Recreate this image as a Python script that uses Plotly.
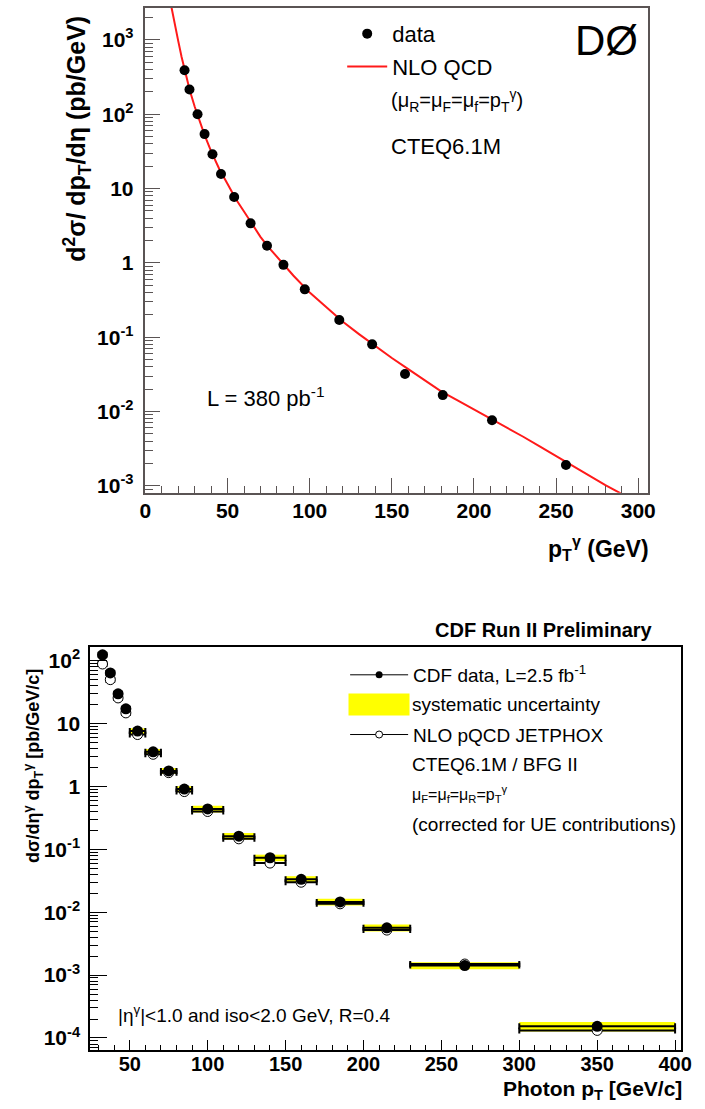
import plotly.graph_objects as go

W, H = 705, 1109

# ---------------- Top panel (D0) data ----------------
d0_pt = [23.8, 26.8, 31.7, 36.0, 40.8, 46.0, 54.0, 64.0, 74.0, 84.0, 97.0,
         118.0, 138.0, 158.0, 181.0, 211.0, 256.0]
d0_xsec = [390, 215, 100, 54, 29, 15.7, 7.7, 3.4, 1.7, 0.94, 0.44,
           0.17, 0.08, 0.032, 0.0166, 0.0076, 0.0019]

nlo_pt = [15, 16, 18, 20, 22, 24, 27, 30, 33, 36, 40, 45, 50, 55, 60, 65, 70, 75, 80,
          90, 100, 110, 120, 130, 140, 150, 160, 170, 180, 190, 200, 210, 220,
          230, 240, 250, 260, 270, 280, 290]
nlo_xsec = [3400, 2690, 1585, 955, 589, 380, 209, 126, 79.4, 52.5, 31.6, 18.2, 11.5,
            7.24, 4.90, 3.24, 2.24, 1.62, 1.20, 0.676, 0.398, 0.251, 0.162, 0.110,
            0.0759, 0.0525, 0.0372, 0.0263, 0.0186, 0.0141, 0.0107, 0.00813,
            0.00617, 0.00457, 0.00339, 0.00251, 0.00182, 0.00135, 0.00102, 0.000776]

top_ytickvals = [1e3, 1e2, 10, 1, 0.1, 0.01, 0.001]
top_yticktext = ["10<sup>3</sup>", "10<sup>2</sup>", "10", "1",
                 "10<sup>-1</sup>", "10<sup>-2</sup>", "10<sup>-3</sup>"]

# ---------------- Bottom panel (CDF) data ----------------
cdf_pt = [32.5, 37.5, 42.5, 47.5, 55, 65, 75, 85, 100, 120, 140, 160, 185, 215, 265, 350]
cdf_halfwidth = [2.5, 2.5, 2.5, 2.5, 5, 5, 5, 5, 10, 10, 10, 10, 15, 15, 35, 50]
cdf_xsec = [124, 64, 29.7, 17.2, 7.6, 3.55, 1.77, 0.91, 0.44, 0.162, 0.0735,
            0.0334, 0.0146, 0.00566, 0.00142, 0.000153]
cdf_syst_frac = [0.12, 0.12, 0.12, 0.12, 0.11, 0.11, 0.11, 0.11, 0.12, 0.12, 0.12,
                 0.12, 0.12, 0.125, 0.13, 0.17]
jetphox_xsec = [88.7, 50, 25.6, 14.8, 6.7, 3.25, 1.66, 0.83, 0.40, 0.147, 0.0605,
                0.030, 0.0136, 0.0052, 0.00150, 0.000132]

bot_ytickvals = [1e2, 10, 1, 0.1, 0.01, 0.001, 0.0001]
bot_yticktext = ["10<sup>2</sup>", "10", "1", "10<sup>-1</sup>", "10<sup>-2</sup>",
                 "10<sup>-3</sup>", "10<sup>-4</sup>"]


def px(x):
    return x / W


def py(y):
    return 1 - y / H


def minor_log(lo, hi):
    vals = []
    for d in range(lo, hi + 1):
        for k in range(2, 10):
            vals.append(k * 10.0 ** d)
    return vals


FONT = "Liberation Sans"
fig = go.Figure()

# ---- top traces ----
fig.add_trace(go.Scatter(x=nlo_pt, y=nlo_xsec, mode="lines",
                         line=dict(color="#ff1a1a", width=2),
                         name="NLO QCD", legend="legend5", xaxis="x", yaxis="y"))
fig.add_trace(go.Scatter(x=d0_pt, y=d0_xsec, mode="markers",
                         marker=dict(color="black", size=10, symbol="circle"),
                         name="data", legend="legend4", xaxis="x", yaxis="y"))

# ---- bottom traces ----
syst_lo = [v * (1 - f) for v, f in zip(cdf_xsec, cdf_syst_frac)]
syst_hi = [v * (1 + f) for v, f in zip(cdf_xsec, cdf_syst_frac)]
fig.add_trace(go.Bar(x=cdf_pt, y=[h - l for h, l in zip(syst_hi, syst_lo)], base=syst_lo,
                     width=[2 * w for w in cdf_halfwidth],
                     marker=dict(color="#ffff00", line=dict(width=0)),
                     showlegend=False, xaxis="x2", yaxis="y2", name="systematic uncertainty"))
fig.add_trace(go.Scatter(x=cdf_pt, y=jetphox_xsec, mode="markers",
                         marker=dict(color="white", size=10, symbol="circle",
                                     line=dict(color="black", width=1)),
                         error_x=dict(type="data", array=cdf_halfwidth, color="black",
                                      thickness=2, width=3),
                         showlegend=False, xaxis="x2", yaxis="y2"))
fig.add_trace(go.Scatter(x=cdf_pt, y=cdf_xsec, mode="markers",
                         marker=dict(color="black", size=11, symbol="circle"),
                         error_x=dict(type="data", array=cdf_halfwidth, color="black",
                                      thickness=2, width=3),
                         showlegend=False, xaxis="x2", yaxis="y2"))
# legend-only entries for bottom panel
fig.add_trace(go.Scatter(x=[None], y=[None], mode="lines+markers",
                         line=dict(color="black", width=1),
                         marker=dict(color="black", size=7),
                         name="CDF data, L=2.5 fb<sup>-1</sup>", legend="legend",
                         xaxis="x2", yaxis="y2"))
fig.add_trace(go.Scatter(x=[None], y=[None], mode="lines+markers",
                         line=dict(color="black", width=1),
                         marker=dict(color="white", size=7, line=dict(color="black", width=1)),
                         name="NLO pQCD JETPHOX", legend="legend3",
                         xaxis="x2", yaxis="y2"))

tickfont = dict(family=FONT, size=21, color="black", weight="bold")
top_line = "#5a5454"

fig.update_layout(
    width=W, height=H, margin=dict(l=0, r=0, t=0, b=0),
    paper_bgcolor="white", plot_bgcolor="white",
    showlegend=True, barmode="overlay",
    xaxis=dict(domain=[px(142.7), px(657)], range=[0, 306], anchor="y",
               showline=True, linecolor=top_line, linewidth=1.5, mirror=True,
               ticks="inside", ticklen=15, tickcolor=top_line, tickwidth=1,
               tick0=0, dtick=50, showgrid=False, zeroline=False,
               minor=dict(ticks="inside", ticklen=7, dtick=10, tickcolor=top_line, showgrid=False),
               tickfont=tickfont, ticklabelstandoff=-2),
    yaxis=dict(domain=[py(494), py(7)], type="log", range=[-3.094, 3.43], anchor="x",
               showline=True, linecolor=top_line, linewidth=1.5, mirror=True,
               ticks="inside", ticklen=15, tickcolor=top_line, tickwidth=1,
               tickvals=top_ytickvals, ticktext=top_yticktext, showgrid=False, zeroline=False,
               minor=dict(ticks="inside", ticklen=8, tickvals=minor_log(-4, 3),
                          tickcolor=top_line, showgrid=False),
               tickfont=tickfont, ticklabelstandoff=6),
    xaxis2=dict(domain=[px(86), px(691)], range=[24.5, 404], anchor="y2",
                showline=True, linecolor="black", linewidth=1.5, mirror=True,
                ticks="inside", ticklen=10, tickcolor="black", tickwidth=1,
                tick0=0, dtick=50, showgrid=False, zeroline=False,
                minor=dict(ticks="inside", ticklen=5, dtick=10, tickcolor="black", showgrid=False),
                tickfont=dict(family=FONT, size=20, color="black", weight="bold"),
                ticklabelstandoff=-5),
    yaxis2=dict(domain=[py(1054), py(649)], type="log", range=[-4.195, 2.217], anchor="x2",
                showline=True, linecolor="black", linewidth=1.5, mirror=True,
                ticks="inside", ticklen=17, tickcolor="black", tickwidth=1,
                tickvals=bot_ytickvals, ticktext=bot_yticktext, showgrid=False, zeroline=False,
                minor=dict(ticks="inside", ticklen=8, tickvals=minor_log(-5, 2),
                           tickcolor="black", showgrid=False),
                tickfont=tickfont, ticklabelstandoff=4),
    legend=dict(x=px(347), y=py(677), xanchor="left", yanchor="middle",
                bgcolor="rgba(0,0,0,0)", font=dict(family=FONT, size=19, color="black"),
                itemwidth=58),
    legend3=dict(x=px(347), y=py(737), xanchor="left", yanchor="middle",
                 bgcolor="rgba(0,0,0,0)", font=dict(family=FONT, size=19, color="black"),
                 itemwidth=58),
    legend4=dict(x=px(344), y=py(33), xanchor="left", yanchor="middle",
                 bgcolor="rgba(0,0,0,0)", font=dict(family=FONT, size=22, color="black"),
                 itemwidth=40),
    legend5=dict(x=px(344), y=py(66), xanchor="left", yanchor="middle",
                 bgcolor="rgba(0,0,0,0)", font=dict(family=FONT, size=22, color="black"),
                 itemwidth=40),
)

ann = []


def add_text(text, x, y, size, xanchor="left", bold=False, angle=0, yanchor="middle"):
    ann.append(dict(text=text, x=px(x), y=py(y), xref="paper", yref="paper",
                    xanchor=xanchor, yanchor=yanchor, showarrow=False, textangle=angle,
                    font=dict(family=FONT, size=size, color="black",
                              weight="bold" if bold else "normal")))


# top panel texts
add_text("d<sup>2</sup>σ/ dp<sub>T</sub>/dη (pb/GeV)", 73, 138, 25, xanchor="center", bold=True, angle=-90)
add_text("p<sub>T</sub><sup>γ</sup> (GeV)", 660, 549, 23, xanchor="right", bold=True)
add_text("DØ", 614, 40, 42, xanchor="center")
add_text("(μ<sub>R</sub>=μ<sub>F</sub>=μ<sub>f</sub>=p<sub>T</sub><sup>γ</sup>)", 392, 100, 20)
add_text("CTEQ6.1M", 392, 146, 22)
add_text("L = 380 pb<sup>-1</sup>", 204, 398, 22)

# bottom panel texts
add_text("CDF Run II Preliminary", 664, 632, 20, xanchor="right", bold=True)
add_text("systematic uncertainty", 413, 707, 19)
add_text("CTEQ6.1M / BFG II", 413, 767, 19)
add_text("μ<sub>F</sub>=μ<sub>f</sub>=μ<sub>R</sub>=p<sub>T</sub><sup>γ</sup>", 413, 797, 16)
add_text("(corrected for UE contributions)", 413, 827, 19)
add_text("|η<sup>γ</sup>|&lt;1.0 and iso&lt;2.0 GeV, R=0.4", 113, 1018, 19)
add_text("dσ/dη<sup>γ</sup> dp<sub>T</sub><sup>γ</sup> [pb/GeV/c]", 28, 768, 18, xanchor="center", bold=True, angle=-90)
add_text("Photon p<sub>T</sub> [GeV/c]", 694, 1094, 21, xanchor="right", bold=True)

# yellow key of the systematic-uncertainty legend entry
ann.append(dict(text=" ", x=px(382), y=py(707), xref="paper", yref="paper",
                xanchor="center", yanchor="middle", showarrow=False,
                width=60, height=21, bgcolor="#ffff00", borderpad=0))

fig.update_layout(annotations=ann)

fig.write_html("out.html")
